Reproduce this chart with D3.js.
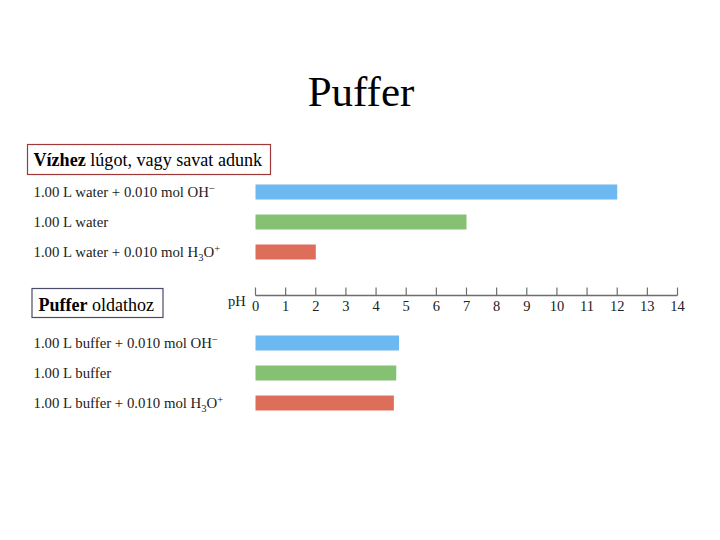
<!DOCTYPE html>
<html>
<head>
<meta charset="utf-8">
<script src="https://cdn.jsdelivr.net/npm/d3@7"></script>
<style>
  html, body { margin: 0; padding: 0; background: #fff; }
  svg { display: block; font-family: "Liberation Serif", "Times New Roman", serif; }
</style>
</head>
<body>
<svg id="chart" width="720" height="540"></svg>
<script>
// ---- data ----
const title = "Puffer";
const waterLabels = ["1.00 L water + 0.010 mol OH", "1.00 L water", "1.00 L water + 0.010 mol H3O"];
const waterValues = [12.0, 7.0, 2.0];
const bufferLabels = ["1.00 L buffer + 0.010 mol OH", "1.00 L buffer", "1.00 L buffer + 0.010 mol H3O"];
const bufferValues = [4.76, 4.67, 4.59];
const labelKinds = ["oh", "plain", "h3o"];
const barColors = ["#6cb8f0", "#85c173", "#dd6f5a"];
const pHTicks = [0, 1, 2, 3, 4, 5, 6, 7, 8, 9, 10, 11, 12, 13, 14];
const axisLabel = "pH";
const box1Bold = "Vízhez", box1Rest = " lúgot, vagy savat adunk";
const box2Bold = "Puffer", box2Rest = " oldathoz";

const svg = d3.select("#chart");

// title
svg.append("text").attr("x", 361).attr("y", 106).attr("text-anchor", "middle")
  .attr("font-size", 43).attr("fill", "#000").text(title);

// x scale
const x = d3.scaleLinear().domain([0, 14]).range([255.5, 677.5]);

// axis
const axisG = svg.append("g").attr("transform", "translate(0,295.5)");
axisG.append("line").attr("x1", x(0)).attr("x2", x(14)).attr("y1", 0).attr("y2", 0)
  .attr("stroke", "#6e6e6e").attr("stroke-width", 1.5);
axisG.selectAll("line.tick").data(pHTicks).join("line").attr("class", "tick")
  .attr("x1", d => x(d)).attr("x2", d => x(d)).attr("y1", 0).attr("y2", -8)
  .attr("stroke", "#6e6e6e").attr("stroke-width", 1.2);
axisG.selectAll("text.tl").data(pHTicks).join("text").attr("class", "tl")
  .attr("x", d => x(d)).attr("y", 15).attr("text-anchor", "middle")
  .attr("font-size", 14.5).attr("fill", "#222").text(d => d);
svg.append("text").attr("x", 228).attr("y", 306).attr("font-size", 14.5).attr("fill", "#222").text(axisLabel);

function drawGroup(labels, values, top) {
  const y = d3.scaleBand().domain(labels).range([top, top + 90]).paddingInner(0.5).paddingOuter(0.25);
  const g = svg.append("g");
  g.selectAll("rect").data(labels).join("rect")
    .attr("x", x(0)).attr("y", d => y(d))
    .attr("width", (d, i) => x(values[i]) - x(0))
    .attr("height", y.bandwidth())
    .attr("fill", (d, i) => barColors[i]);
  labels.forEach((lab, i) => {
    const t = g.append("text").attr("x", 33.5).attr("y", y(lab) + y.bandwidth() / 2 + 4.5)
      .attr("font-size", 14.8).attr("fill", "#222");
    const kind = labelKinds[i];
    if (kind === "oh") {
      t.append("tspan").text(lab);
      t.append("tspan").attr("font-size", 10.5).attr("dy", -5).text("\u2212");
    } else if (kind === "h3o") {
      const base = lab.replace(/H3O$/, "");
      t.append("tspan").text(base + "H");
      t.append("tspan").attr("font-size", 10.5).attr("dy", 4).text("3");
      t.append("tspan").attr("dy", -4).text("O");
      t.append("tspan").attr("font-size", 10.5).attr("dy", -5).text("+");
    } else {
      t.text(lab);
    }
  });
}

drawGroup(waterLabels, waterValues, 177);
drawGroup(bufferLabels, bufferValues, 328);

// boxes
svg.append("rect").attr("x", 27.5).attr("y", 144.5).attr("width", 243).attr("height", 30)
  .attr("fill", "#fff").attr("stroke", "#a03a3a").attr("stroke-width", 1.2);
const b1 = svg.append("text").attr("x", 33.5).attr("y", 166).attr("font-size", 18.1).attr("fill", "#000");
b1.append("tspan").attr("font-weight", "bold").text(box1Bold);
b1.append("tspan").text(box1Rest);

svg.append("rect").attr("x", 32).attr("y", 288.5).attr("width", 131).attr("height", 29)
  .attr("fill", "#fff").attr("stroke", "#4a4a6a").attr("stroke-width", 1.2);
const b2 = svg.append("text").attr("x", 38.5).attr("y", 311).attr("font-size", 18).attr("fill", "#000");
b2.append("tspan").attr("font-weight", "bold").text(box2Bold);
b2.append("tspan").text(box2Rest);
</script>
</body>
</html>
